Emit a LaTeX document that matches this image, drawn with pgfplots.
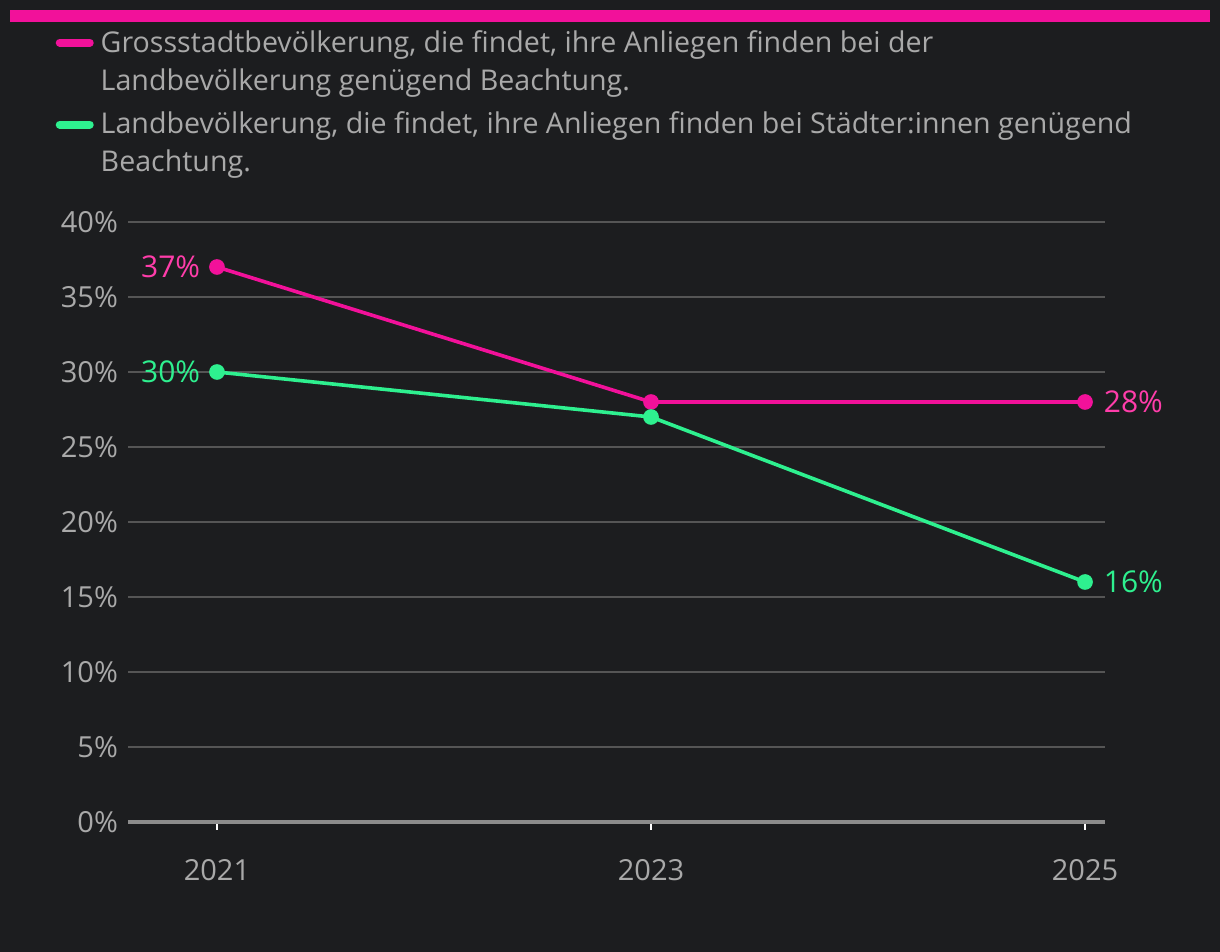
\documentclass[border=0pt]{standalone}
\usepackage{pgfplots}
\pgfplotsset{compat=1.18}
\usepackage{fontspec}
\setmainfont{Open Sans}

\definecolor{bgcol}{HTML}{1C1D1F}
\definecolor{txtgray}{HTML}{A9A9A9}
\definecolor{gridgray}{HTML}{555555}
\definecolor{axgray}{HTML}{8C8C8C}
\definecolor{pinkline}{HTML}{F2119A}
\definecolor{pinklab}{HTML}{FF3DAA}
\definecolor{greenline}{HTML}{2EF08F}

\begin{document}
\begin{tikzpicture}
% page area (1px = 0.5pt), axis box south west at (0,0)
\fill[bgcol] (-64pt,-65pt) rectangle (546pt,411pt);
\useasboundingbox (-64pt,-65pt) rectangle (546pt,411pt);
\fill[pinkline] (-59pt,400pt) rectangle (541pt,406pt);

\begin{axis}[
    at={(0,0)}, anchor=south west,
    scale only axis,
    width=488.5pt, height=300pt,
    xmin=2020.59, xmax=2025.092,
    ymin=0, ymax=40,
    xtick={2021,2023,2025},
    xticklabels={2021,2023,2025},
    ytick={0,5,...,40},
    yticklabel={\pgfmathprintnumber{\tick}\%},
    /pgf/number format/assume math mode=true,
    font=\fontsize{14.5}{17}\selectfont,
    ticklabel style={text=txtgray},
    axis x line*=bottom, axis y line*=left,
    x axis line style={draw=axgray, line width=2pt, -},
    y axis line style={draw=none},
    ymajorgrids,
    grid style={draw=gridgray, line width=1pt},
    tick align=outside,
    major tick length=4pt,
    xtick style={draw=white, line width=0.6pt},
    ytick style={draw=none},
    xticklabel style={yshift=-11pt},
    yticklabel style={xshift=2.5pt},
    clip=false,
    legend style={
        at={(-0.0805,1.327)}, anchor=north west,
        draw=none, fill=none,
        text=txtgray,
        font=\fontsize{14.3}{19}\selectfont,
        row sep=9.5pt,
        cells={anchor=west},
        nodes={align=left, inner sep=0pt},
        column sep=3.5pt,
    },
    legend image code/.code={
        \draw[line width=4pt, line cap=round] (2pt,9.5pt) -- (17pt,9.5pt);
    },
]
\addplot[pinkline, line width=1.8pt, mark=*, mark size=3pt,
    mark options={fill=pinkline, draw=pinkline}]
    coordinates {(2021,37) (2023,28) (2025,28)}
    node[pos=0, anchor=east, xshift=-7.5pt, text=pinklab, inner sep=0pt, font=\fontsize{15}{17}\selectfont] {37\%}
    node[pos=1, anchor=west, xshift=8.5pt, text=pinklab, inner sep=0pt, font=\fontsize{15}{17}\selectfont] {28\%};
\addlegendentry{Grossstadtbevölkerung, die findet, ihre Anliegen finden bei der\\Landbevölkerung genügend Beachtung.}

\addplot[greenline, line width=1.8pt, mark=*, mark size=3pt,
    mark options={fill=greenline, draw=greenline}]
    coordinates {(2021,30) (2023,27) (2025,16)}
    node[pos=0, anchor=east, xshift=-7.5pt, text=greenline, inner sep=0pt, font=\fontsize{15}{17}\selectfont] {30\%}
    node[pos=1, anchor=west, xshift=8.5pt, text=greenline, inner sep=0pt, font=\fontsize{15}{17}\selectfont] {16\%};
\addlegendentry{Landbevölkerung, die findet, ihre Anliegen finden bei Städter:innen genügend\\Beachtung.}
\end{axis}
\end{tikzpicture}
\end{document}
